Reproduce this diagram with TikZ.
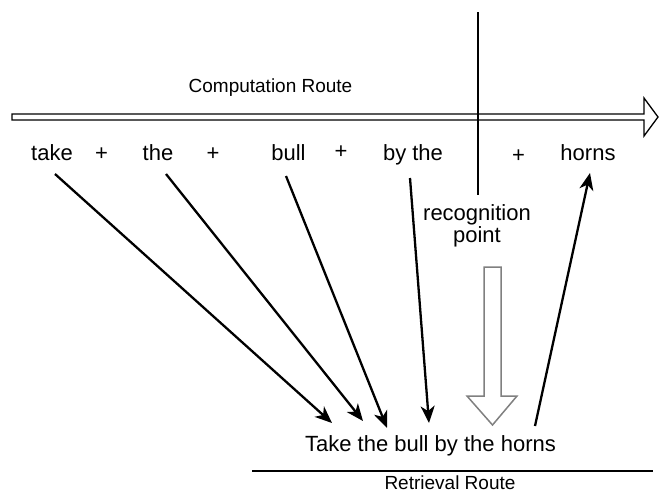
\documentclass[tikz,border=0pt]{standalone}
\usepackage{fontspec}
\setmainfont{Liberation Sans}
\usetikzlibrary{arrows.meta}
\definecolor{arrowgray}{RGB}{128,128,128}

\begin{document}
\begin{tikzpicture}[x=1pt,y=-1pt,
  word/.style={font=\fontsize{22}{25}\selectfont, anchor=base, inner sep=0pt},
  caption/.style={font=\fontsize{19}{22}\selectfont, anchor=base, inner sep=0pt},
  link/.style={line width=2.3pt, -{Stealth[length=17pt,width=14pt,inset=5pt]}},
  outline/.style={line width=1.3pt},
]
\useasboundingbox (0,0) rectangle (659,493);

% computation route: hollow double arrow
\draw[outline, fill=white] (12,114) -- (644,114) -- (644,98) -- (658,117)
  -- (644,136) -- (644,120) -- (12,120) -- cycle;
\node[caption] (comp) at (270.5,92) {Computation Route};

% recognition point divider
\coordinate (divtop) at (478,12);
\coordinate (divbot) at (478,195);
\draw[outline] (divtop) -- (divbot);

% the words, left to right
\node[word] (take)  at (52,160)    {take};
\node[word] (p1)    at (101.5,160) {+};
\node[word] (the)   at (158,160)   {the};
\node[word] (p2)    at (213,160)   {+};
\node[word] (bull)  at (288.5,160) {bull};
\node[word] (p3)    at (341,158)   {+};
\node[word] (bythe) at (413,160)   {by the};
\node[word] (p4)    at (518.5,162) {+};
\node[word] (horns) at (588,160)   {horns};

\node[word, align=center, anchor=center] (recog) at (477,226)
  {recognition\\[-3pt]point};

% the idiom and the retrieval route
\node[word] (idiom) at (430.5,451) {Take the bull by the horns};
\coordinate (rrl) at (252,471);
\coordinate (rrr) at (653,471);
\draw[outline] (rrl) -- (rrr);
\node[caption] (retr) at (450,489.5) {Retrieval Route};

% hollow downward arrow under the recognition point
\draw[draw=arrowgray, line width=1.5pt, fill=white]
  (484,267) -- (501,267) -- (501,396) -- (517,396) -- (492.5,425)
  -- (467,396) -- (484,396) -- cycle;

% connectors between the words and the idiom
\coordinate (takeS)  at (55,174);
\coordinate (theS)   at (166,174);
\coordinate (bullS)  at (286,176);
\coordinate (bytheS) at (410,178);
\coordinate (hornsS) at (590,173);
\coordinate (iA) at (332,423);
\coordinate (iB) at (363,421);
\coordinate (iC) at (387,428);
\coordinate (iD) at (429,423);
\coordinate (iE) at (535,426);

\draw[link] (takeS)  -- (iA);
\draw[link] (theS)   -- (iB);
\draw[link] (bullS)  -- (iC);
\draw[link] (bytheS) -- (iD);
\draw[link] (iE)     -- (hornsS);
\end{tikzpicture}
\end{document}
